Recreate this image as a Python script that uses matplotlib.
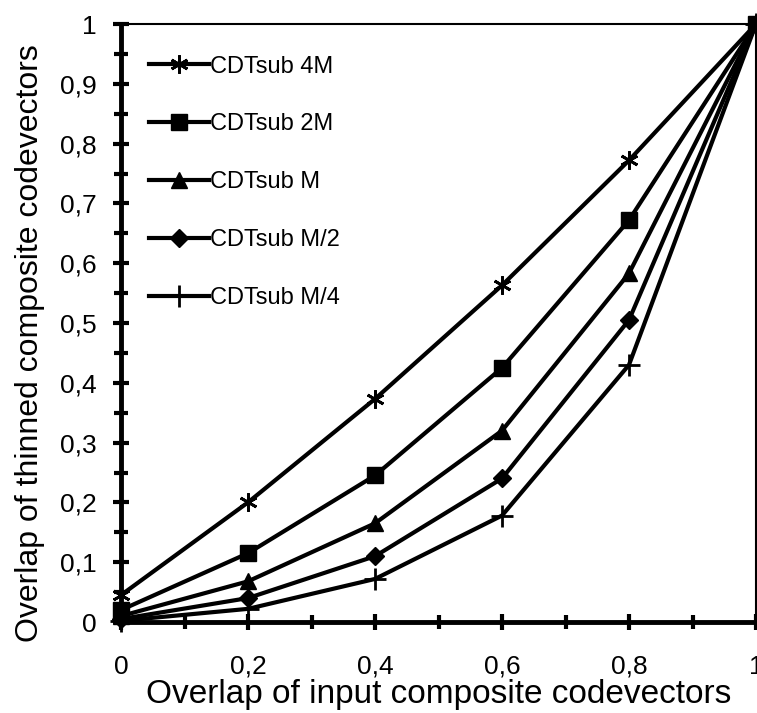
import matplotlib
matplotlib.use("Agg")
import matplotlib.pyplot as plt
from matplotlib.ticker import MultipleLocator, FuncFormatter

plt.rcParams["font.family"] = ["Liberation Sans", "DejaVu Sans"]

x = [0.0, 0.2, 0.4, 0.6, 0.8, 1.0]
sub_4m = [0.045, 0.200, 0.373, 0.563, 0.772, 1.0]
sub_2m = [0.020, 0.115, 0.245, 0.425, 0.672, 1.0]
sub_m = [0.010, 0.068, 0.165, 0.320, 0.583, 1.0]
sub_m2 = [0.005, 0.040, 0.110, 0.240, 0.505, 1.0]
sub_m4 = [0.002, 0.022, 0.072, 0.178, 0.430, 1.0]
labels = ["CDTsub 4M", "CDTsub 2M", "CDTsub M", "CDTsub M/2", "CDTsub M/4"]

W, H = 757, 713
fig = plt.figure(figsize=(W / 100, H / 100), dpi=100)
ax = fig.add_axes([121 / W, (H - 622) / H, (756 - 121) / W, (622 - 24) / H])

styles = [
    dict(marker=(6, 2, 0), ms=13, mew=2),
    dict(marker="s", ms=12),
    dict(marker="^", ms=12),
    dict(marker="D", ms=9),
    dict(marker="+", ms=16, mew=2),
]
for ys, lab, st in zip([sub_4m, sub_2m, sub_m, sub_m2, sub_m4], labels, styles):
    ax.plot(x, ys, color="black", lw=3, mfc="black", mec="black",
            label=lab, clip_on=False, zorder=3, **st)

ax.set_xlim(0, 1)
ax.set_ylim(0, 1)
ax.xaxis.set_major_locator(MultipleLocator(0.2))
ax.xaxis.set_minor_locator(MultipleLocator(0.1))
ax.yaxis.set_major_locator(MultipleLocator(0.1))
ax.yaxis.set_minor_locator(MultipleLocator(0.05))

fmt = FuncFormatter(lambda v, p: "0" if abs(v) < 1e-9 else ("1" if abs(v - 1) < 1e-9
                    else f"{v:.1f}".replace(".", ",")))
ax.xaxis.set_major_formatter(fmt)
ax.yaxis.set_major_formatter(fmt)

ax.tick_params(which="major", direction="inout", length=11, width=3,
               labelsize=19, pad=12)
ax.tick_params(which="minor", direction="inout", length=10, width=3)
ax.tick_params(axis="x", which="major", pad=18)
for s in ["left", "bottom"]:
    ax.spines[s].set_linewidth(3.5)
for s in ["top", "right"]:
    ax.spines[s].set_linewidth(1.5)

ax.set_xlabel("Overlap of input composite codevectors", fontsize=24, labelpad=0)
ax.set_ylabel("Overlap of thinned composite codevectors", fontsize=23)
ax.yaxis.set_label_coords(-0.12, 0.467)

ax.legend(loc="upper left", bbox_to_anchor=(0.03, 0.963), frameon=False,
          fontsize=17, handlelength=2.5, handletextpad=0.05, labelspacing=1.52,
          borderaxespad=0)

fig.savefig("out.png", dpi=100)
